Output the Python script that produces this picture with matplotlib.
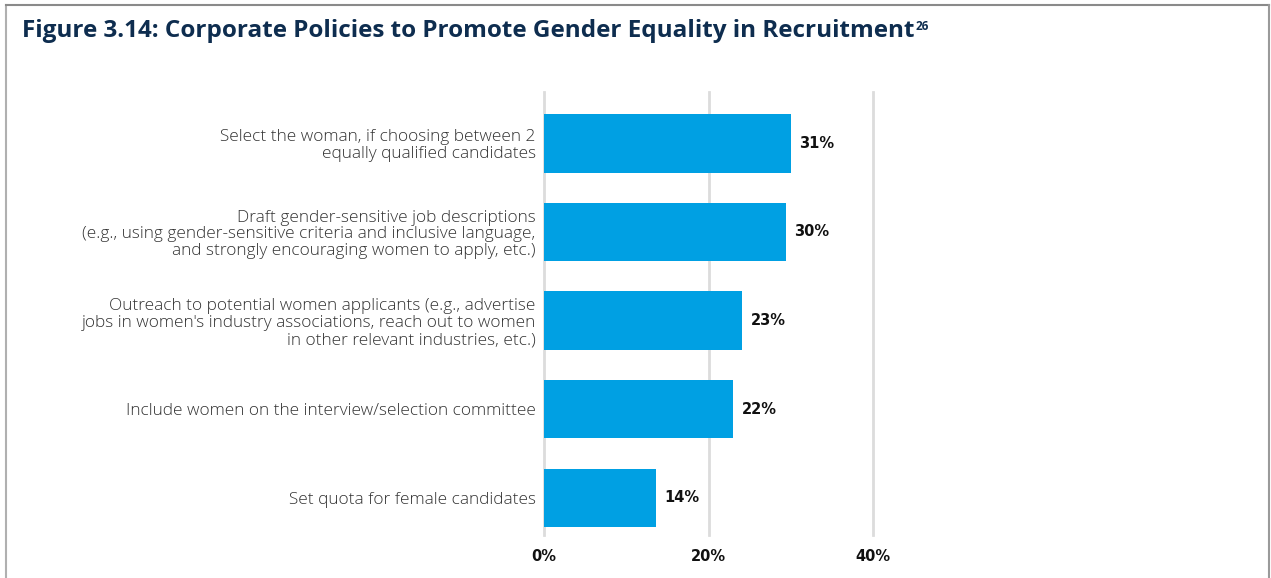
import matplotlib.pyplot as plt
from matplotlib.lines import Line2D

# dados do grafico
categorias = [
    "Select the woman, if choosing between 2\nequally qualified candidates",
    "Draft gender-sensitive job descriptions\n(e.g., using gender-sensitive criteria and inclusive language,\nand strongly encouraging women to apply, etc.)",
    "Outreach to potential women applicants (e.g., advertise\njobs in women's industry associations, reach out to women\nin other relevant industries, etc.)",
    "Include women on the interview/selection committee",
    "Set quota for female candidates",
]
valores = [30.0, 29.4, 24.1, 23.0, 13.6]  # comprimento das barras como desenhadas
rotulos = ["31%", "30%", "23%", "22%", "14%"]
ticks = [0, 20, 40]
tick_labels = ["0%", "20%", "40%"]

titulo = "Figure 3.14: Corporate Policies to Promote Gender Equality in Recruitment"

W, H = 1271, 578
fig = plt.figure(figsize=(W / 100, H / 100), dpi=100)
fig.patch.set_facecolor("white")

# eixo posicionado em pixels
x0, x1 = 544, 873
y_top, y_bot = 92, 535
ax = fig.add_axes([x0 / W, 1 - y_bot / H, (x1 - x0) / W, (y_bot - y_top) / H])

ypos = list(range(len(categorias)))
ax.barh(ypos, valores, height=0.66, color="#00a0e3", zorder=3)
ax.set_xlim(0, 40)
ax.set_ylim(4.42, -0.58)

# linhas de grade verticais
for x in ticks:
    ax.axvline(x, color="#dcdcdc", lw=2, zorder=1, clip_on=False)

for y, v, r in zip(ypos, valores, rotulos):
    ax.text(v + 1.0, y, r, va="center", ha="left", fontsize=10.5,
            fontweight="bold", family="DejaVu Sans", color="#111111")

ax.set_yticks(ypos)
ax.set_yticklabels(categorias, fontsize=12.4, family="Open Sans", fontweight="light",
                   color="#333333", linespacing=1.08)
ax.tick_params(axis="y", length=0, pad=6)
ax.set_xticks(ticks)
ax.set_xticklabels(tick_labels, fontsize=10.5, fontweight="bold", family="DejaVu Sans",
                   color="#111111")
ax.tick_params(axis="x", length=0, pad=10)
for s in ax.spines.values():
    s.set_visible(False)

# titulo com sobrescrito
t = fig.text(22 / W, 1 - 31 / H, titulo, fontsize=17.5, fontweight="bold",
             family="Open Sans", color="#0e2d4f", va="center", ha="left")
ax.annotate("26", xy=(1, 0.95), xycoords=t, xytext=(1, 0), textcoords="offset points",
            fontsize=8.5, fontweight="bold", family="Open Sans", color="#0e2d4f",
            va="top", ha="left", annotation_clip=False)

# moldura cinza (sem linha de baixo)
fig.add_artist(Line2D([5.5 / W, 5.5 / W], [0, 1 - 4.5 / H], color="#b0b0b0", lw=1.5))
fig.add_artist(Line2D([5.5 / W, 1269 / W], [1 - 4.5 / H, 1 - 4.5 / H], color="#8a8a8a", lw=1.5))
fig.add_artist(Line2D([1269 / W, 1269 / W], [0, 1 - 4.5 / H], color="#9a9a9a", lw=1.5))

fig.savefig("out.png", dpi=100)
